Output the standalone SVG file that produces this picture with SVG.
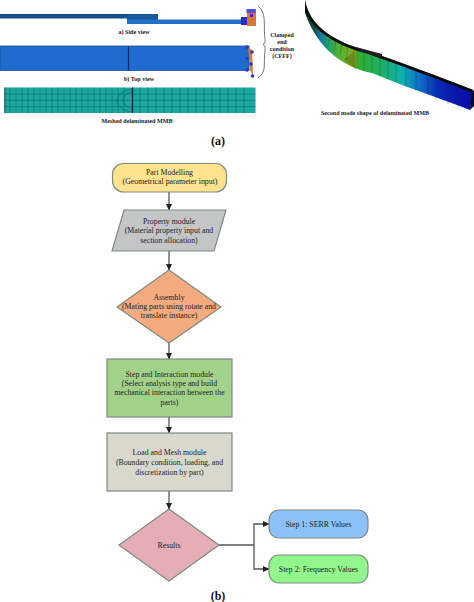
<svg xmlns="http://www.w3.org/2000/svg" width="474" height="602" viewBox="0 0 474 602">
<style>
text{font-family:"Liberation Serif","Times New Roman",serif;fill:#222;text-anchor:middle}
.f{font-size:7.8px}
.c{font-size:6.1px;font-weight:bold}
.h{font-size:12px;font-weight:bold;fill:#111}
.n{stroke:#7d8a80;stroke-width:1.2}
.l{fill:none;stroke:#555;stroke-width:1.3}
.m{stroke:#0b5f5f;stroke-width:.5;fill:none}
.s{stroke:#0a3020;stroke-width:.4;fill:none;opacity:.7}
.b{fill:#3030d8}
</style>
<defs>
<marker id="a" markerWidth="7" markerHeight="6" refX="6" refY="3" orient="auto" markerUnits="userSpaceOnUse"><path d="M0 0L6.500 3L0 6Z" fill="#222"/></marker>
<linearGradient id="mode" gradientUnits="userSpaceOnUse" x1="305" x2="472" y1="0" y2="0">
<stop offset="0" stop-color="#0a3a28"/><stop offset=".05" stop-color="#0a4a38"/><stop offset=".09" stop-color="#1478a0"/><stop offset=".14" stop-color="#20a070"/><stop offset=".2" stop-color="#50b030"/><stop offset=".3" stop-color="#80b020"/><stop offset=".32" stop-color="#30b030"/><stop offset=".48" stop-color="#18b070"/><stop offset=".58" stop-color="#10b0b0"/><stop offset=".68" stop-color="#1070c8"/><stop offset=".8" stop-color="#0828b8"/><stop offset="1" stop-color="#0808a8"/>
</linearGradient>
</defs>

<g id="side-view">
<rect x="0" y="14" width="158" height="4.500" fill="#14508c"/>
<rect x="127" y="14" width="31" height="10" fill="#1a5a9c"/>
<rect x="127" y="19.500" width="115" height="4.500" fill="#2070c8"/>
<rect x="241" y="17" width="9" height="8" fill="#2030d0"/>
<rect x="247" y="9" width="9" height="17" fill="#d87838"/>
<rect x="246.500" y="9" width="9" height="4" fill="#5050d8"/>
<rect x="250" y="14" width="3" height="3" class="b"/>
<text class="c" x="134" y="34">a) Side view</text>
</g>
<g id="top-view">
<rect x="0" y="46" width="249" height="24.500" fill="#1f6bd0" stroke="#14508c" stroke-width=".8"/>
<line x1="128.500" y1="46" x2="128.500" y2="70.500" stroke="#0a2a60" stroke-width="1.200"/>
<path d="M246 46L252 50L253 76L250 70L248 46Z" fill="#d87838"/>
<circle cx="247" cy="47" r="1.800" class="b"/><circle cx="252" cy="52" r="1.800" class="b"/><circle cx="247" cy="58.500" r="1.800" class="b"/><circle cx="251" cy="64" r="1.800" class="b"/><circle cx="247" cy="70" r="1.800" class="b"/><circle cx="252.500" cy="76" r="1.800" class="b"/>
<text class="c" x="139" y="81">b) Top view</text>
</g>
<g id="clamped">
<path d="M258 6C266 12 264 24 264.500 34C265 40 266 43 263 44.500C266 46 265 50 264.500 56C264 66 266 72 258 78" fill="none" stroke="#666" stroke-width=".9"/>
<text class="c"><tspan x="282" y="36.500">Clamped</tspan><tspan x="282" y="44">end</tspan><tspan x="282" y="51">condition</tspan><tspan x="282" y="58">(CFFF)</tspan></text>
</g>
<g id="mesh">
<rect x="4.500" y="87.500" width="251" height="25.500" fill="#1aa8a0"/>
<path class="m" d="M10 87.500V113M16 87.500V113M22 87.500V113M28 87.500V113M34 87.500V113M40 87.500V113M46 87.500V113M52 87.500V113M58 87.500V113M64 87.500V113M70 87.500V113M76 87.500V113M82 87.500V113M88 87.500V113M94 87.500V113M100 87.500V113M106 87.500V113M112 87.500V113M118 87.500V113M124 87.500V113M140 87.500V113M148 87.500V113M156 87.500V113M164 87.500V113M172 87.500V113M180 87.500V113M188 87.500V113M196 87.500V113M204 87.500V113M212 87.500V113M220 87.500V113M228 87.500V113M236 87.500V113M244 87.500V113M4.500 94H255.500M4.500 100.300H255.500M4.500 106.600H255.500"/>
<path class="m" d="M132 92C122 94 118 104 132 109M132 89C114 92 110 108 132 112"/>
<line x1="4.800" y1="87.500" x2="4.800" y2="113" stroke="#083838" stroke-width=".8"/>
<line x1="132.500" y1="87.500" x2="132.500" y2="113" stroke="#04201f" stroke-width="1.200"/>
<text class="c" x="137" y="123">Meshed delaminated MMB</text>
</g>
<g id="mode-shape">
<path d="M305 0C309 26 335 42 365 50C400 62 440 77 473 90L470 110C440 98 405 87 372 73C345 68 318 50 305 13Z" fill="url(#mode)"/>
<path d="M305 0C309 26 335 42 365 50C400 62 440 77 473 90L473 93C440 80 400 65 365 53C335 45 312 30 305 10Z" fill="#0a0a0a"/>
<path d="M472 90L474 91L474 106L470 110Z" fill="#0a0a18"/>
<path d="M356 47L382 54L382 58L360 51Z" fill="#222"/>
<path d="M355 50L356 69L344 60Z" fill="#6a8a20"/>
<path class="s" d="M330 36L328 46M336 40L334 51M342 43L340 55M348 45L346 60M357 50V68M364 52V71M372 55V73M380 57V76M388 60V79M396 63V82M406 67V87M416 70V91M428 74V95M436 77V99M448 82V104M458 86V108"/>
<text class="c" x="375" y="115">Second mode shape of delaminated MMB</text>
</g>
<text id="label-a" class="h" x="218" y="145">(a)</text>

<g id="connectors">
<path class="l" d="M169 192V210" marker-end="url(#a)"/>
<path class="l" d="M169 251V270" marker-end="url(#a)"/>
<path class="l" d="M169 343V359" marker-end="url(#a)"/>
<path class="l" d="M169 417V433" marker-end="url(#a)"/>
<path class="l" d="M169 491V509" marker-end="url(#a)"/>
<path class="l" d="M219 545H254V524H269" marker-end="url(#a)"/>
<path class="l" d="M254 545V569H269" marker-end="url(#a)"/>
</g>
<g id="part-modelling">
<rect class="n" x="112.500" y="163.500" width="114" height="28.500" rx="11" fill="#ffe38e"/>
<text class="f"><tspan x="169.500" y="175">Part Modelling</tspan><tspan x="170" y="184">(Geometrical parameter input)</tspan></text>
</g>
<g id="property-module">
<path class="n" d="M124 210H226L214 251H112Z" fill="#c3c5c6"/>
<text class="f"><tspan x="169" y="224">Property module</tspan><tspan x="169" y="233">(Material property input and</tspan><tspan x="169" y="243">section allocation)</tspan></text>
</g>
<g id="assembly">
<path class="n" d="M169 270L221 307L169 343L117 307Z" fill="#f4ab7f"/>
<text class="f"><tspan x="169" y="300">Assembly</tspan><tspan x="169" y="309">(Mating parts using rotate and</tspan><tspan x="169" y="318">translate instance)</tspan></text>
</g>
<g id="step-interaction">
<rect class="n" x="107" y="359" width="125" height="58" fill="#a2d28a"/>
<text class="f"><tspan x="169.500" y="377">Step and Interaction module</tspan><tspan x="169.500" y="386">(Select analysis type and build</tspan><tspan x="169.500" y="395">mechanical interaction between the</tspan><tspan x="169.500" y="405">parts)</tspan></text>
</g>
<g id="load-mesh">
<rect class="n" x="107" y="433" width="125" height="58" fill="#d8d8cc"/>
<text class="f"><tspan x="169.500" y="455">Load and Mesh module</tspan><tspan x="169.500" y="465">(Boundary condition, loading, and</tspan><tspan x="169.500" y="475">discretization by part)</tspan></text>
</g>
<g id="results">
<path class="n" d="M169 509L219 545L169 581L119 545Z" fill="#e5aeb6"/>
<text class="f" x="169" y="547.500">Results</text>
</g>
<g id="step1">
<rect class="n" x="269" y="510" width="99" height="28" rx="10" fill="#8cc1fb"/>
<text class="f" x="318.500" y="526.500">Step 1: SERR Values</text>
</g>
<g id="step2">
<rect class="n" x="269" y="555" width="99" height="28" rx="10" fill="#93f68c"/>
<text class="f" x="318.500" y="571.500">Step 2: Frequency Values</text>
</g>
<text id="label-b" class="h" x="218" y="600">(b)</text>
</svg>
